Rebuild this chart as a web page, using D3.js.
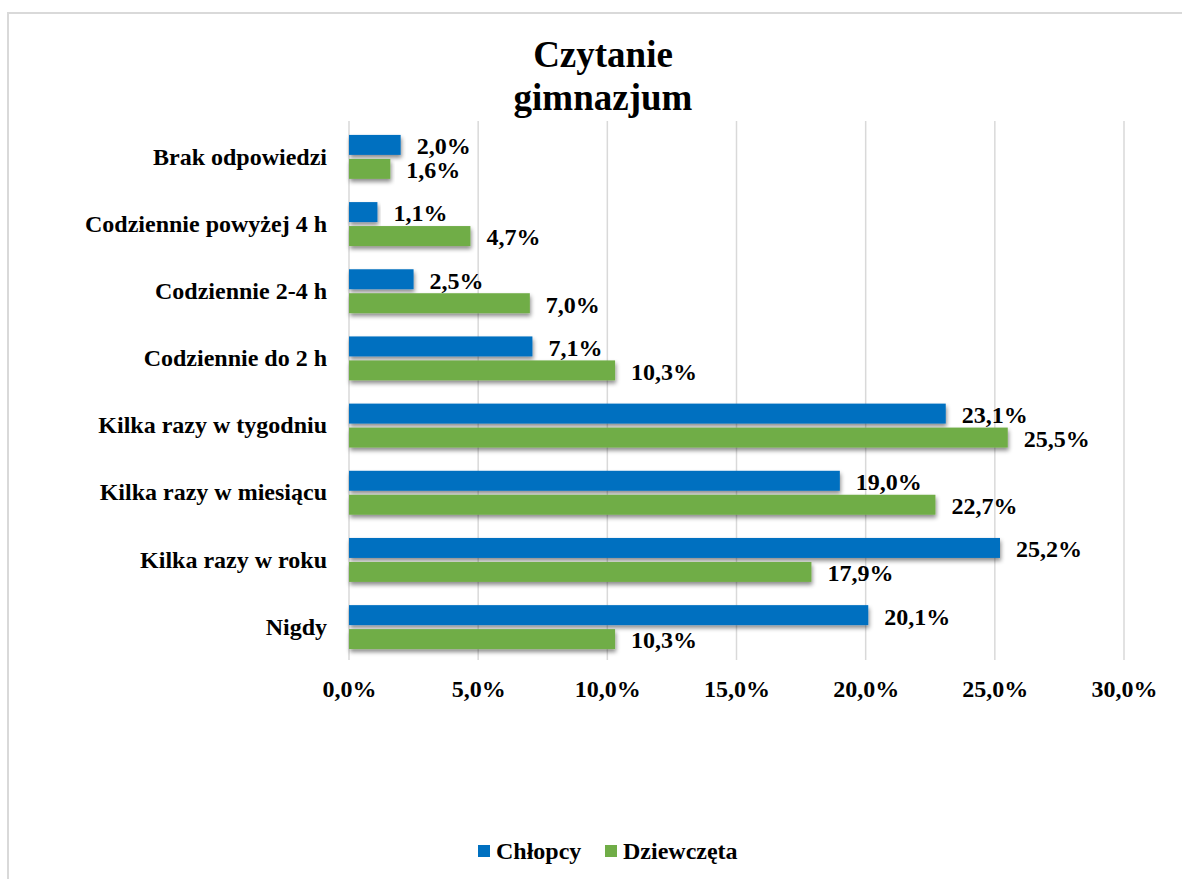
<!DOCTYPE html>
<html>
<head>
<meta charset="utf-8">
<script src="https://cdn.jsdelivr.net/npm/d3@7"></script>
<style>
  body { margin: 0; background: #fff; }
  svg text { font-family: "Liberation Serif", "Times New Roman", Times, serif !important; font-weight: bold; }
</style>
</head>
<body>
<div id="chart"></div>
<script>
(function () {

  // Data
  const categories = ["Brak odpowiedzi", "Codziennie powyżej 4 h", "Codziennie 2-4 h",
    "Codziennie do 2 h", "Kilka razy w tygodniu", "Kilka razy w miesiącu",
    "Kilka razy w roku", "Nigdy"]
  const seriesNames = ["Chłopcy", "Dziewczęta"]
  const chlopcy = [2.0, 1.1, 2.5, 7.1, 23.1, 19.0, 25.2, 20.1]
  const dziewczeta = [1.6, 4.7, 7.0, 10.3, 25.5, 22.7, 17.9, 10.3]
  const ticks = [0, 5, 10, 15, 20, 25, 30]

  const colors = ["#0070C0", "#70AD47"]
  const W = 1182, H = 879
  const margin = { top: 121, right: 58, bottom: 219, left: 349 }
  const width = W - margin.left - margin.right
  const height = H - margin.top - margin.bottom
  const fs = "24px"

  const rows = categories.map((c, i) => ({ cat: c, values: [chlopcy[i], dziewczeta[i]] }))
  const pct = v => d3.format(".1f")(v).replace(".", ",") + "%"

  const svg = d3.select("#chart").append("svg")
    .attr("width", W)
    .attr("height", H)

  // shadow under bars
  const defs = svg.append("defs")
  const f = defs.append("filter").attr("id", "shadow")
    .attr("x", "-5%").attr("y", "-30%").attr("width", "115%").attr("height", "180%")
  f.append("feDropShadow")
    .attr("dx", 1).attr("dy", 3).attr("stdDeviation", 2)
    .attr("flood-color", "#000").attr("flood-opacity", 0.45)

  // outer frame
  svg.append("rect")
    .attr("x", 8).attr("y", 13)
    .attr("width", W).attr("height", H)
    .attr("fill", "none")
    .attr("stroke", "#d9d9d9")
    .attr("stroke-width", 2)

  // title
  svg.append("text")
    .attr("x", 603).attr("y", 67)
    .attr("text-anchor", "middle")
    .style("font-size", "37px")
    .text("Czytanie")
  svg.append("text")
    .attr("x", 603).attr("y", 110)
    .attr("text-anchor", "middle")
    .style("font-size", "37px")
    .text("gimnazjum")

  const g = svg.append("g")
    .attr("transform", "translate(" + margin.left + "," + margin.top + ")")

  const x = d3.scaleLinear().domain([0, 30]).range([0, width])
  const y0 = d3.scaleBand().domain(categories).range([0, height])
    .paddingInner(0.346).paddingOuter(0.185).align(0.56)
  const y1 = d3.scaleBand().domain([0, 1]).range([0, y0.bandwidth()]).paddingInner(0.167)

  // gridlines
  g.selectAll(".grid")
    .data(ticks)
    .join("line")
    .attr("class", "grid")
    .attr("x1", d => x(d)).attr("x2", d => x(d))
    .attr("y1", 0).attr("y2", height)
    .attr("stroke", "#d9d9d9")
    .attr("stroke-width", 1.5)

  // x axis labels
  const xAxis = d3.axisBottom(x)
    .tickValues(ticks)
    .tickSize(0)
    .tickPadding(20)
    .tickFormat(pct)
  g.append("g")
    .attr("transform", "translate(0," + height + ")")
    .call(xAxis)
    .call(a => a.select(".domain").remove())
    .attr("font-family", null)
    .selectAll("text")
    .style("font-size", fs)
    .attr("fill", "#000")

  // y axis labels
  const yAxis = d3.axisLeft(y0).tickSize(0).tickPadding(22)
  g.append("g")
    .call(yAxis)
    .call(a => a.select(".domain").remove())
    .attr("font-family", null)
    .selectAll("text")
    .style("font-size", fs)
    .attr("fill", "#000")

  // bars
  const groups = g.selectAll(".cat")
    .data(rows)
    .join("g")
    .attr("class", "cat")
    .attr("transform", d => "translate(0," + y0(d.cat) + ")")

  groups.selectAll("rect")
    .data(d => d.values.map((v, i) => ({ v, i })))
    .join("rect")
    .attr("x", 0)
    .attr("y", d => y1(d.i))
    .attr("width", d => x(d.v))
    .attr("height", y1.bandwidth())
    .attr("fill", d => colors[d.i])
    .attr("filter", "url(#shadow)")

  groups.selectAll(".lbl")
    .data(d => d.values.map((v, i) => ({ v, i })))
    .join("text")
    .attr("class", "lbl")
    .attr("x", d => x(d.v) + 16)
    .attr("y", d => y1(d.i) + y1.bandwidth() / 2 + 1)
    .attr("dy", "0.35em")
    .style("font-size", fs)
    .text(d => pct(d.v))

  // legend
  const legend = svg.append("g").attr("transform", "translate(478,851)")
  const items = legend.selectAll("g")
    .data(seriesNames)
    .join("g")
    .attr("transform", (d, i) => "translate(" + (i * 127) + ",0)")
  items.append("rect")
    .attr("x", 0).attr("y", -6)
    .attr("width", 12).attr("height", 12)
    .attr("fill", (d, i) => colors[i])
  items.append("text")
    .attr("x", 18).attr("y", 0)
    .attr("dy", "0.35em")
    .style("font-size", fs)
    .text(d => d)

})();
</script>
</body>
</html>
